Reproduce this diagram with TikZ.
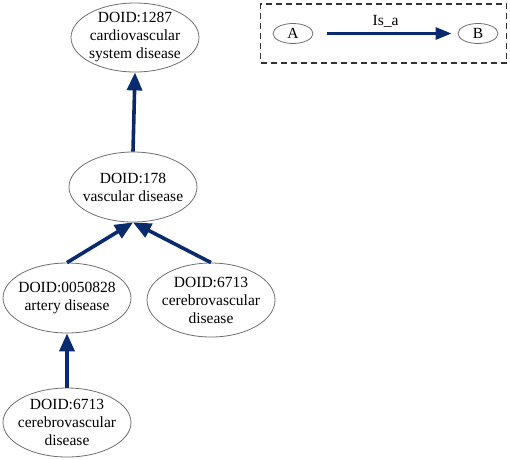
\documentclass[tikz,border=0pt]{standalone}
\usepackage{fontspec}
\setmainfont{Liberation Serif}
\usetikzlibrary{shapes.geometric,arrows.meta}
\definecolor{navy}{RGB}{10,42,110}
\definecolor{ellgray}{RGB}{110,110,110}
\tikzset{
  ell/.style={ellipse, draw=ellgray, line width=0.8pt, inner xsep=-14pt, inner ysep=-14pt, align=center,
    font=\fontsize{15.5}{18}\selectfont},
  isa/.style={draw=navy, line width=3.6pt, -{Triangle[length=18pt,width=15pt]}},
  legbox/.style={draw=black!80, line width=1.1pt, dash pattern=on 6pt off 4pt}
}
\begin{document}
\begin{tikzpicture}[x=1pt,y=-1pt]
\useasboundingbox (0,0) rectangle (510,459);
\node[ell, minimum width=128pt, minimum height=69pt] (n1287) at (135,37.5) {DOID:1287\\cardiovascular\\system disease};
\node[ell, minimum width=128pt, minimum height=70pt] (n178) at (133,187) {DOID:178\\vascular disease};
\node[ell, minimum width=128pt, minimum height=70pt] (n0050828) at (67,298) {DOID:0050828\\artery disease};
\node[ell, minimum width=128pt, minimum height=74pt] (n6713r) at (211,300) {DOID:6713\\cerebrovascular\\disease};
\node[ell, minimum width=128pt, minimum height=69pt] (n6713b) at (67,422.5) {DOID:6713\\cerebrovascular\\disease};
\draw[isa] (n178.north) -- (n1287.south);
\draw[isa] (n0050828.north) -- (n178.south);
\draw[isa] (n6713r.north) -- (n178.south);
\draw[isa] (n6713b.north) -- (n0050828.south);
% legend
\node[legbox, draw, minimum width=246pt, minimum height=59pt, inner sep=0pt] (legend) at (383.5,33.5) {};
\node[ell, minimum width=40pt, minimum height=20pt] (A) at (293,33.5) {A};
\node[ell, minimum width=40pt, minimum height=20pt] (B) at (478,33.5) {B};
\draw[isa, line width=3pt, -{Triangle[length=16pt,width=12pt]}, shorten <=14pt, shorten >=6pt] (A) -- (B)
  node[midway, above=1pt, font=\fontsize{15.5}{18}\selectfont, text=black] (lbl) {Is\_a};
\end{tikzpicture}
\end{document}
